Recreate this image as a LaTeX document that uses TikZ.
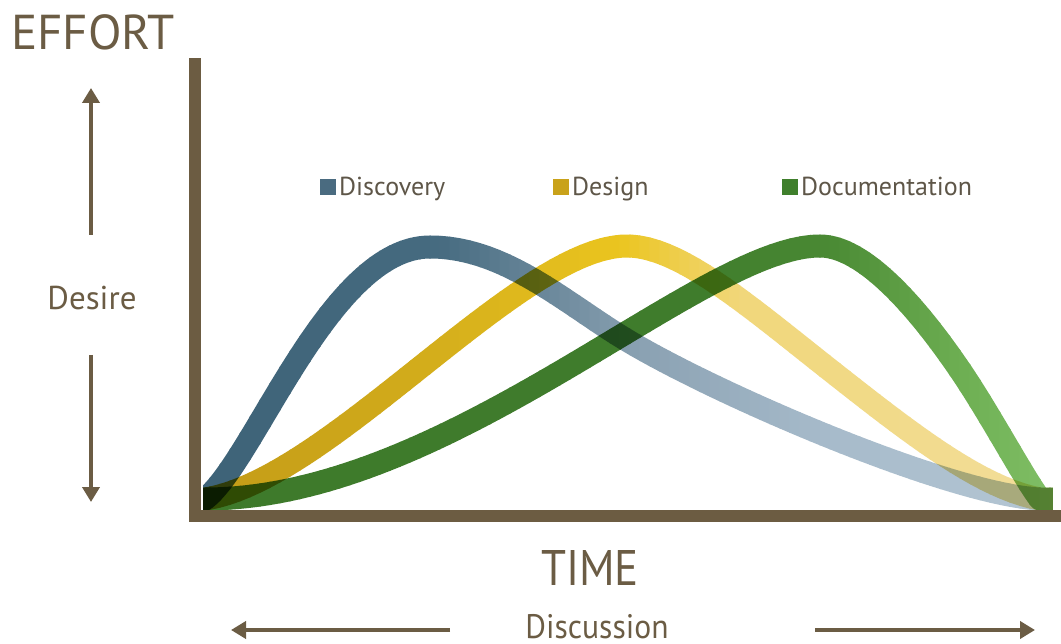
\documentclass[tikz,border=0pt]{standalone}
\usepackage{fontspec}
\setmainfont{PT Sans}
\usetikzlibrary{arrows.meta}
\definecolor{axisbrown}{HTML}{6C5C42}
\definecolor{labelbrown}{HTML}{6B5C44}
\definecolor{legendtext}{HTML}{5E5648}
% Discovery stops
\definecolor{dA}{HTML}{3D6277}
\definecolor{dB}{HTML}{466B80}
\definecolor{dC}{HTML}{8AA1B2}
\definecolor{dD}{HTML}{A6BACA}
\definecolor{dE}{HTML}{B5C7D4}
% Design stops
\definecolor{yA}{HTML}{C29A17}
\definecolor{yB}{HTML}{D2AC1B}
\definecolor{yC}{HTML}{EBC51F}
\definecolor{yD}{HTML}{F1D77A}
\definecolor{yE}{HTML}{F2DE9C}
% Documentation stops
\definecolor{gA}{HTML}{3E7A2B}
\definecolor{gB}{HTML}{3F7C2C}
\definecolor{gC}{HTML}{4A8A34}
\definecolor{gD}{HTML}{6DAE52}
\definecolor{gE}{HTML}{82C168}
\definecolor{discsq}{HTML}{4A6B80}
\definecolor{desisq}{HTML}{C9A21A}
\definecolor{docusq}{HTML}{3F7F2C}
\tikzset{
  discpath/.style={insert path={(180,499) -- (205,499)
     .. controls (255,460) and (330,247) .. (430,247)
     .. controls (502,247) and (560,298.5) .. (620,336)
     .. controls (710,392) and (950,495) .. (1040,499) -- (1070,499)}},
  desipath/.style={insert path={(180,499) -- (205,499)
     .. controls (330,480) and (520,246) .. (627,246)
     .. controls (680,246) and (750,307) .. (830,370)
     .. controls (910,433) and (980,488) .. (1040,499) -- (1070,499)}},
  docupath/.style={insert path={(180,499) -- (205,499)
     .. controls (450,499) and (700,246) .. (820,246)
     .. controls (870,246) and (930,326) .. (960,370)
     .. controls (990,414) and (1025,480) .. (1040,499) -- (1070,499)}},
  band/.style={line width=23pt, line join=round},
  bigarrow/.style={labelbrown, line width=4pt, -{Triangle[length=15pt,width=17pt]}},
  bigtext/.style={text=labelbrown, inner sep=0pt},
  legtext/.style={text=legendtext, inner sep=0pt, anchor=base west, font=\fontsize{26}{30}\selectfont},
}
% #1 = path style, #2 = stops
\newcommand\drawband[2]{%
  \begin{scope}[blend mode=multiply]
  \begin{scope}[transparency group]
  \foreach \xs in {200,210,...,1050}{%
    \foreach \xl/\cl/\xr/\cr in {#2}{%
      \pgfmathtruncatemacro\inseg{((\xs>=\xl)&&(\xs<\xr))?1:0}%
      \ifnum\inseg=1
        \pgfmathsetmacro\pp{((\xr-\xs-5)/(\xr-\xl))*100}%
        \begin{scope}
          \clip (\xs-0.6,100) rectangle (\xs+10.6,520);
          \draw[band, color=\cl!\pp!\cr, #1];
        \end{scope}
      \fi
    }%
  }%
  \end{scope}
  \end{scope}
}
\begin{document}
\begin{tikzpicture}[x=1pt,y=-1pt]
\useasboundingbox (0,0) rectangle (1061,644);
\fill[white] (0,0) rectangle (1061,644);
% curves
\begin{scope}
  \clip (203,100) rectangle (1052,511);
  \drawband{discpath}{190/dA/440/dB, 440/dB/640/dC, 640/dC/820/dD, 820/dD/1060/dE}
  \drawband{desipath}{190/yA/420/yB, 420/yB/620/yC, 620/yC/740/yD, 740/yD/1060/yE}
  \drawband{docupath}{190/gA/700/gB, 700/gB/830/gC, 830/gC/960/gD, 960/gD/1060/gE}
\end{scope}
% axes
\fill[axisbrown] (189,58) rectangle (201,522);
\fill[axisbrown] (189,510) rectangle (1061,522);
% labels
\node[bigtext, anchor=base west, font=\fontsize{49}{58}\selectfont] (effort) at (11,50) {EFFORT};
\node[bigtext, anchor=base, font=\fontsize{33}{40}\selectfont] (desire) at (92,310) {Desire};
\coordinate (upS) at (91,235); \coordinate (upT) at (91,88);
\coordinate (dnS) at (91,355); \coordinate (dnT) at (91,502);
\draw[bigarrow] (upS) -- (upT);
\draw[bigarrow] (dnS) -- (dnT);
\node[bigtext, anchor=base, xscale=0.9, font=\fontsize{50}{60}\selectfont] (time) at (590,585) {TIME};
\node[bigtext, anchor=base, xscale=0.93, font=\fontsize{34}{40}\selectfont] (disc) at (597,638) {Discussion};
\coordinate (lS) at (450,630); \coordinate (lT) at (231,630);
\coordinate (rS) at (815,630); \coordinate (rT) at (1035,630);
\draw[bigarrow] (lS) -- (lT);
\draw[bigarrow] (rS) -- (rT);
% legend
\fill[discsq] (320,179) rectangle (336,195);
\node[legtext] (lg1) at (339,196) {Discovery};
\fill[desisq] (553,179) rectangle (569,195);
\node[legtext] (lg2) at (572,196) {Design};
\fill[docusq] (782,179) rectangle (798,195);
\node[legtext] (lg3) at (801,196) {Documentation};
\end{tikzpicture}
\end{document}
